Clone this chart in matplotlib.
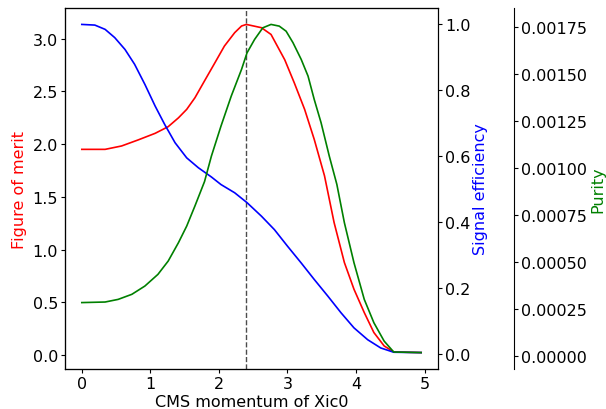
import numpy as np
import matplotlib
matplotlib.use("Agg")
import matplotlib.pyplot as plt

plt.rcParams['font.size'] = 11.5
plt.rcParams['xtick.major.size'] = 3
plt.rcParams['ytick.major.size'] = 3
plt.rcParams['xtick.major.pad'] = 2
plt.rcParams['ytick.major.pad'] = 2

# values
x_fom = [0.0, 0.34, 0.58, 0.82, 1.07, 1.26, 1.41, 1.53, 1.65, 1.79, 1.94, 2.08, 2.23, 2.33,
         2.4, 2.62, 2.76, 2.96, 3.10, 3.25, 3.39, 3.54, 3.68, 3.83, 3.97, 4.12, 4.26, 4.41,
         4.55, 4.95]
fom = [1.951, 1.951, 1.983, 2.04, 2.103, 2.166, 2.25, 2.33, 2.44, 2.60, 2.77, 2.93, 3.057,
       3.12, 3.135, 3.104, 3.04, 2.80, 2.58, 2.33, 2.046, 1.70, 1.257, 0.878, 0.625, 0.404,
       0.215, 0.088, 0.031, 0.025]

x_eff = [0.0, 0.19, 0.34, 0.48, 0.63, 0.77, 0.92, 1.07, 1.21, 1.36, 1.53, 1.70, 1.89, 2.03,
         2.23, 2.41, 2.62, 2.81, 3.0, 3.2, 3.39, 3.59, 3.78, 3.97, 4.17, 4.36, 4.55, 4.95]
eff = [1.0, 0.998, 0.985, 0.96, 0.924, 0.879, 0.818, 0.752, 0.696, 0.641, 0.595, 0.565,
       0.537, 0.514, 0.489, 0.459, 0.418, 0.377, 0.327, 0.276, 0.226, 0.175, 0.125, 0.079,
       0.043, 0.018, 0.005, 0.004]

x_pur = [0.0, 0.34, 0.53, 0.73, 0.92, 1.11, 1.26, 1.41, 1.53, 1.65, 1.79, 1.89, 2.03, 2.18,
         2.33, 2.41, 2.52, 2.64, 2.76, 2.88, 2.98, 3.08, 3.2, 3.30, 3.39, 3.49, 3.61, 3.72,
         3.83, 3.97, 4.12, 4.26, 4.41, 4.55, 4.95]
pur = [0.000286, 0.000289, 0.000303, 0.00033, 0.000374, 0.000436, 0.000507, 0.000605,
       0.000693, 0.0008, 0.000930, 0.001065, 0.001225, 0.001385, 0.001527, 0.001615,
       0.001686, 0.001748, 0.001766, 0.001757, 0.00173, 0.001669, 0.00158, 0.001491,
       0.001367, 0.001243, 0.001065, 0.000915, 0.000711, 0.000498, 0.000303, 0.000179,
       0.000081, 0.000023, 0.00002]

best_cut = 2.4

fig = plt.figure(figsize=(6.06, 4.10), dpi=100)
ax = fig.add_axes([0.107, 0.0976, 0.616, 0.8804])

ax.plot(x_fom, fom, color='r', linewidth=1.2)
ax.set_ylabel('Figure of merit', color='r')
ax.set_xlabel('CMS momentum of Xic0')
ax.xaxis.set_label_coords(0.5, -0.068)
ax.axvline(best_cut, color='k', linestyle='--', linewidth=1, alpha=0.7)

ax2 = ax.twinx()
ax2.plot(x_eff, eff, color='b', linewidth=1.2)
ax2.set_ylabel('Signal efficiency', color='b', labelpad=2)

ax3 = ax.twinx()
ax3.spines['right'].set_position(('axes', 1.204))
ax3.plot(x_pur, pur, color='g', linewidth=1.2)
ax3.set_ylabel('Purity', color='g', labelpad=2)

fig.savefig('out.png', dpi=100)
